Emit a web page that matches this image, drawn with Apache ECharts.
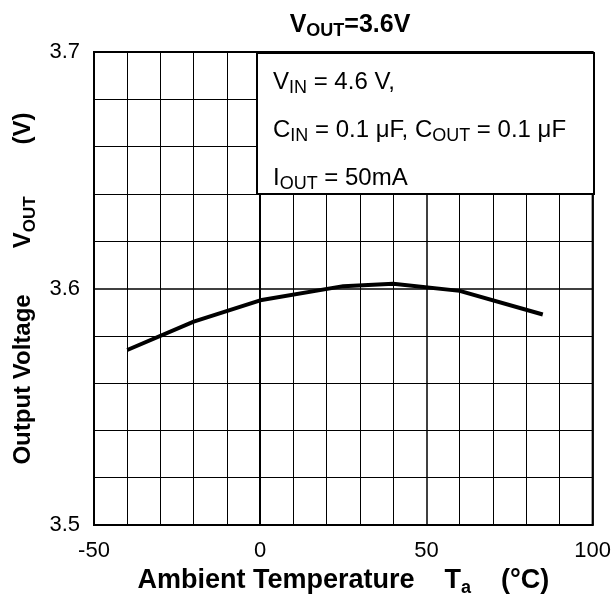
<!DOCTYPE html>
<html>
<head>
    <meta charset="utf-8">
    <title>VOUT vs Ta</title>
    <script src="https://cdn.jsdelivr.net/npm/echarts@6/dist/echarts.min.js"></script>
    <style>
        body { margin: 0; background: #fff; }
    </style>
</head>
<body>
    <div id="main" style="width: 614px;height:605px;"></div>

    <script type="text/javascript">
    // measured curve (Ta in degC, Vout in V)
    var temps = [-40, -20, 0, 25, 40, 60, 85];
    var vout = [3.574, 3.586, 3.595, 3.601, 3.602, 3.599, 3.589];
    var xTicks = [-50, 0, 50, 100];
    var yTicks = [3.5, 3.6, 3.7];

    var font = 'Liberation Sans, Arial, sans-serif';

    var myChart = echarts.init(document.getElementById('main'));

    var points = [];
    for (var i = 0; i < temps.length; i++) {
        points.push([temps[i], vout[i]]);
    }

    // main text + subscript pushed down with top padding
    function richPair(size, subSize, drop, bold) {
        var w = bold ? 'bold' : 'normal';
        return {
            m: { fontSize: size, fontWeight: w, fontFamily: font, color: '#000', verticalAlign: 'top', lineHeight: size },
            s: { fontSize: subSize, fontWeight: w, fontFamily: font, color: '#000', verticalAlign: 'top', lineHeight: subSize, padding: [drop, 0, 0, 0] }
        };
    }

    var boxRich = richPair(24, 18, 9, false);
    var titleRich = richPair(25, 18, 9, true);
    var xNameRich = richPair(27, 18, 12, true);
    xNameRich.sp = { width: 30 };
    var yNameRich = richPair(24, 17, 10, true);
    yNameRich.sp = { width: 46 };
    yNameRich.sp2 = { width: 52 };

    var option = {
        animation: false,
        title: {
            text: '{m|V}{s|OUT}{m|=3.6V}',
            left: 345,
            top: 8,
            textAlign: 'center',
            textStyle: { rich: titleRich }
        },
        grid: {
            left: 94,
            right: 21,
            top: 52,
            bottom: 80,
            show: true,
            borderColor: '#000',
            borderWidth: 2
        },
        xAxis: {
            type: 'value',
            min: -50,
            max: 100,
            interval: 50,
            name: '{m|Ambient Temperature}{sp|}{m|T}{s|a}{sp|}{m|(°C)}',
            nameLocation: 'middle',
            nameGap: 41,
            nameTextStyle: { rich: xNameRich },
            axisLine: { show: true, lineStyle: { color: '#000', width: 2 } },
            axisTick: { show: false },
            axisLabel: {
                margin: 15,
                fontSize: 22,
                fontFamily: font,
                color: '#000',
                formatter: function (v) { return xTicks.indexOf(v) >= 0 ? String(v) : ''; }
            },
            splitLine: { show: true, lineStyle: { color: '#000', width: 1.5 } },
            minorTick: { show: false, splitNumber: 5 },
            minorSplitLine: { show: true, lineStyle: { color: '#000', width: 1 } }
        },
        yAxis: {
            type: 'value',
            min: 3.5,
            max: 3.7,
            interval: 0.1,
            name: '{m|Output Voltage}{sp|}{m|V}{s|OUT}{sp2|}{m|(V)}',
            nameLocation: 'middle',
            nameRotate: 90,
            nameGap: 58,
            nameTextStyle: { rich: yNameRich },
            axisLine: { show: true, lineStyle: { color: '#000', width: 2 } },
            axisTick: { show: false },
            axisLabel: {
                margin: 14,
                fontSize: 22,
                fontFamily: font,
                color: '#000',
                formatter: function (v) {
                    for (var k = 0; k < yTicks.length; k++) {
                        if (Math.abs(yTicks[k] - v) < 1e-6) return yTicks[k].toFixed(1);
                    }
                    return '';
                }
            },
            splitLine: { show: true, lineStyle: { color: '#000', width: 1.5 } },
            minorTick: { show: false, splitNumber: 5 },
            minorSplitLine: { show: true, lineStyle: { color: '#000', width: 1 } }
        },
        series: [
            {
                type: 'line',
                data: points,
                symbol: 'none',
                smooth: false,
                lineStyle: { color: '#000', width: 4 },
                z: 5
            }
        ],
        graphic: [
            {
                type: 'rect',
                left: 256,
                top: 52,
                z: 100,
                shape: { width: 337, height: 141 },
                style: { fill: '#fff', stroke: '#000', lineWidth: 2 }
            },
            {
                type: 'text',
                left: 273,
                top: 70,
                z: 101,
                style: { text: '{m|V}{s|IN}{m| = 4.6 V,}', rich: boxRich }
            },
            {
                type: 'text',
                left: 273,
                top: 118,
                z: 101,
                style: { text: '{m|C}{s|IN}{m| = 0.1 μF, C}{s|OUT}{m| = 0.1 μF}', rich: boxRich }
            },
            {
                type: 'text',
                left: 273,
                top: 166,
                z: 101,
                style: { text: '{m|I}{s|OUT}{m| = 50mA}', rich: boxRich }
            }
        ]
    };

    myChart.setOption(option);
    </script>
</body>
</html>
